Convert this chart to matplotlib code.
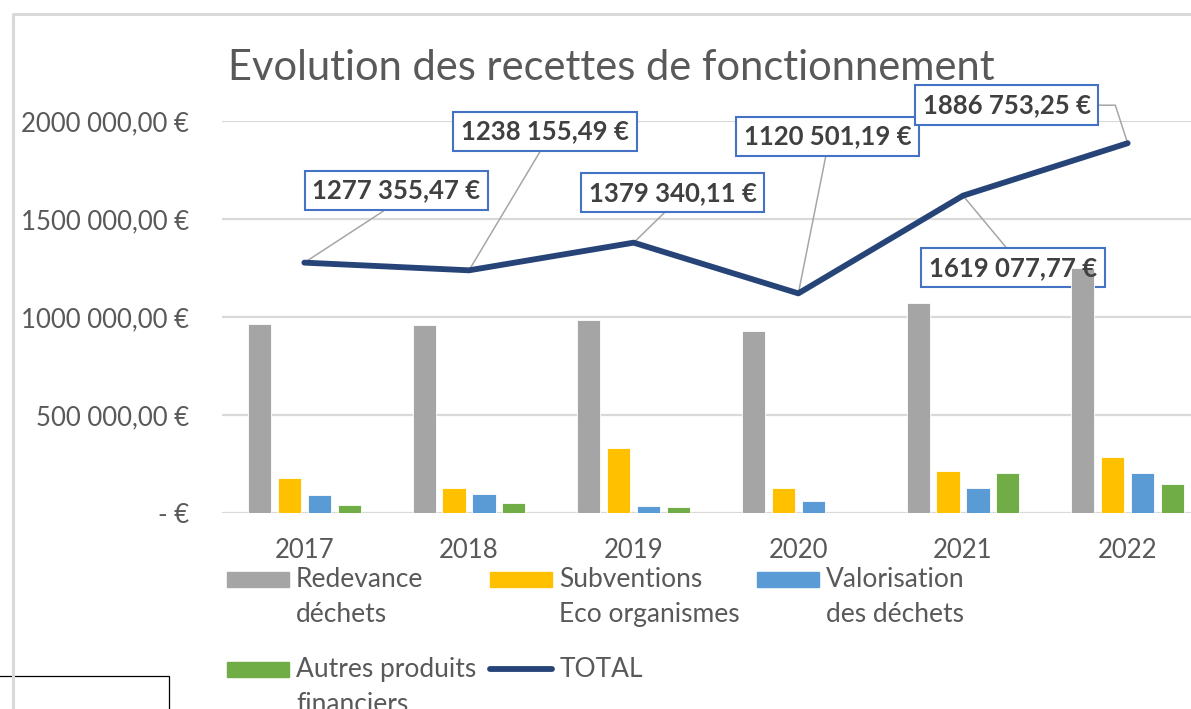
import matplotlib.pyplot as plt
from matplotlib.patches import Rectangle
from matplotlib.lines import Line2D
from matplotlib.ticker import FuncFormatter

plt.rcParams['font.family'] = ['Lato', 'DejaVu Sans']

years = ['2017', '2018', '2019', '2020', '2021', '2022']
redevance = [965000, 960000, 985000, 930000, 1073000, 1248000]
subventions = [178000, 130000, 330000, 130000, 214000, 286000]
valorisation = [91000, 97000, 36000, 60500, 128000, 204000]
autres = [43355.47, 51155.49, 28340.11, 0, 204077.77, 148753.25]
total = [1277355.47, 1238155.49, 1379340.11, 1120501.19, 1619077.77, 1886753.25]
total_labels = ['1277 355,47 €', '1238 155,49 €', '1379 340,11 €',
                '1120 501,19 €', '1619 077,77 €', '1886 753,25 €']
# label box offsets from each point, in pixels
label_offsets = [(92, 72), (76, 139), (39, 50), (29, 157), (50, -72), (-121, 38)]

series = [
    ('Redevance\ndéchets', redevance, '#A5A5A5'),
    ('Subventions\nEco organismes', subventions, '#FFC000'),
    ('Valorisation\ndes déchets', valorisation, '#5B9BD5'),
    ('Autres produits\nfinanciers', autres, '#70AD47'),
]
line_color = '#264478'
text_color = '#595959'

W, H = 1191, 709
fig = plt.figure(figsize=(W / 100, H / 100), dpi=100)


def fx(x):
    return x / W


def fy(y):
    return 1 - y / H


ax = fig.add_axes([fx(222), fy(513), 988 / W, 392 / H])

x = list(range(len(years)))
step = 0.182
for i, (name, vals, col) in enumerate(series):
    xs = [k + (i - 1.5) * step for k in x]
    ax.bar(xs, vals, width=0.14, color=col, edgecolor='white', linewidth=0.6, zorder=2)

ax.plot(x, total, color=line_color, lw=4.2, solid_capstyle='round',
        solid_joinstyle='round', zorder=3, clip_on=False)

# label boxes sit under the bars, the label text on top of everything
for k, (v, lab, off) in enumerate(zip(total, total_labels, label_offsets)):
    arrow = dict(arrowstyle='-', color='#A6A6A6', lw=1.1, shrinkA=0, shrinkB=0,
                 relpos=(0.5, 1) if off[1] < 0 else (0.5, 0))
    if k == 5:
        arrow.update(relpos=(1, 0.5), connectionstyle='angle,angleA=0,angleB=108,rad=0')
    ax.annotate(lab, (k, v), xytext=off, textcoords='offset pixels',
                ha='center', va='center', fontsize=18.5, fontweight='bold',
                color='none', zorder=1.5, annotation_clip=False,
                bbox=dict(boxstyle='square,pad=0.3', fc='white', ec='#4472C4', lw=1.5),
                arrowprops=arrow)
    ax.annotate(lab, (k, v), xytext=off, textcoords='offset pixels',
                ha='center', va='center', fontsize=18.5, fontweight='bold',
                color='#404040', zorder=6, annotation_clip=False)

ax.set_xlim(-0.5, 5.5)
ax.set_ylim(0, 2000000)
ax.set_yticks([0, 500000, 1000000, 1500000, 2000000])


def euro(v, pos):
    if v == 0:
        return '- €'
    s = f'{v:,.2f}'.replace(',', ' ').replace('.', ',')
    if s.startswith('2 ') or s.startswith('1 '):
        s = s[0] + s[2:]
    return s + ' €'


ax.yaxis.set_major_formatter(FuncFormatter(euro))
ax.set_xticks(x)
ax.set_xticklabels(years)
ax.tick_params(axis='y', length=0, pad=24, labelsize=18.5, labelcolor=text_color)
ax.tick_params(axis='x', length=0, pad=18, labelsize=18.5, labelcolor=text_color)
ax.grid(axis='y', color='#D9D9D9', lw=1.6, zorder=0)
ax.set_axisbelow(True)
for s in ax.spines.values():
    s.set_visible(False)

fig.text(fx(228), fy(68), 'Evolution des recettes de fonctionnement',
         fontsize=30, color=text_color, va='center', ha='left')

# legend
legend_items = [
    (227, 587, series[0]), (490, 587, series[1]), (757, 587, series[2]),
    (227, 677, series[3]),
]
for lx, base, (name, vals, col) in legend_items:
    fig.patches.append(Rectangle((fx(lx), fy(base)), 62 / W, 15 / H,
                                 transform=fig.transFigure, color=col))
    for j, part in enumerate(name.split('\n')):
        fig.text(fx(lx + 69), fy(base + 35 * j), part, fontsize=19,
                 color=text_color, va='baseline', ha='left')
fig.lines.append(Line2D([fx(490), fx(552)], [fy(669), fy(669)], color=line_color,
                        lw=4.2, solid_capstyle='round', transform=fig.transFigure))
fig.text(fx(560), fy(677), 'TOTAL', fontsize=19, color=text_color,
         va='baseline', ha='left')

# chart frame and outline box
fig.lines.append(Line2D([fx(13), fx(13), fx(W + 5)], [fy(H + 5), fy(14), fy(14)],
                        color='#D9D9D9', lw=2.2, transform=fig.transFigure))
fig.patches.append(Rectangle((fx(-2), fy(H + 5)), 171 / W, (H + 5 - 676) / H,
                             transform=fig.transFigure, fill=False,
                             ec='black', lw=0.9))

fig.savefig('out.png', dpi=100)
